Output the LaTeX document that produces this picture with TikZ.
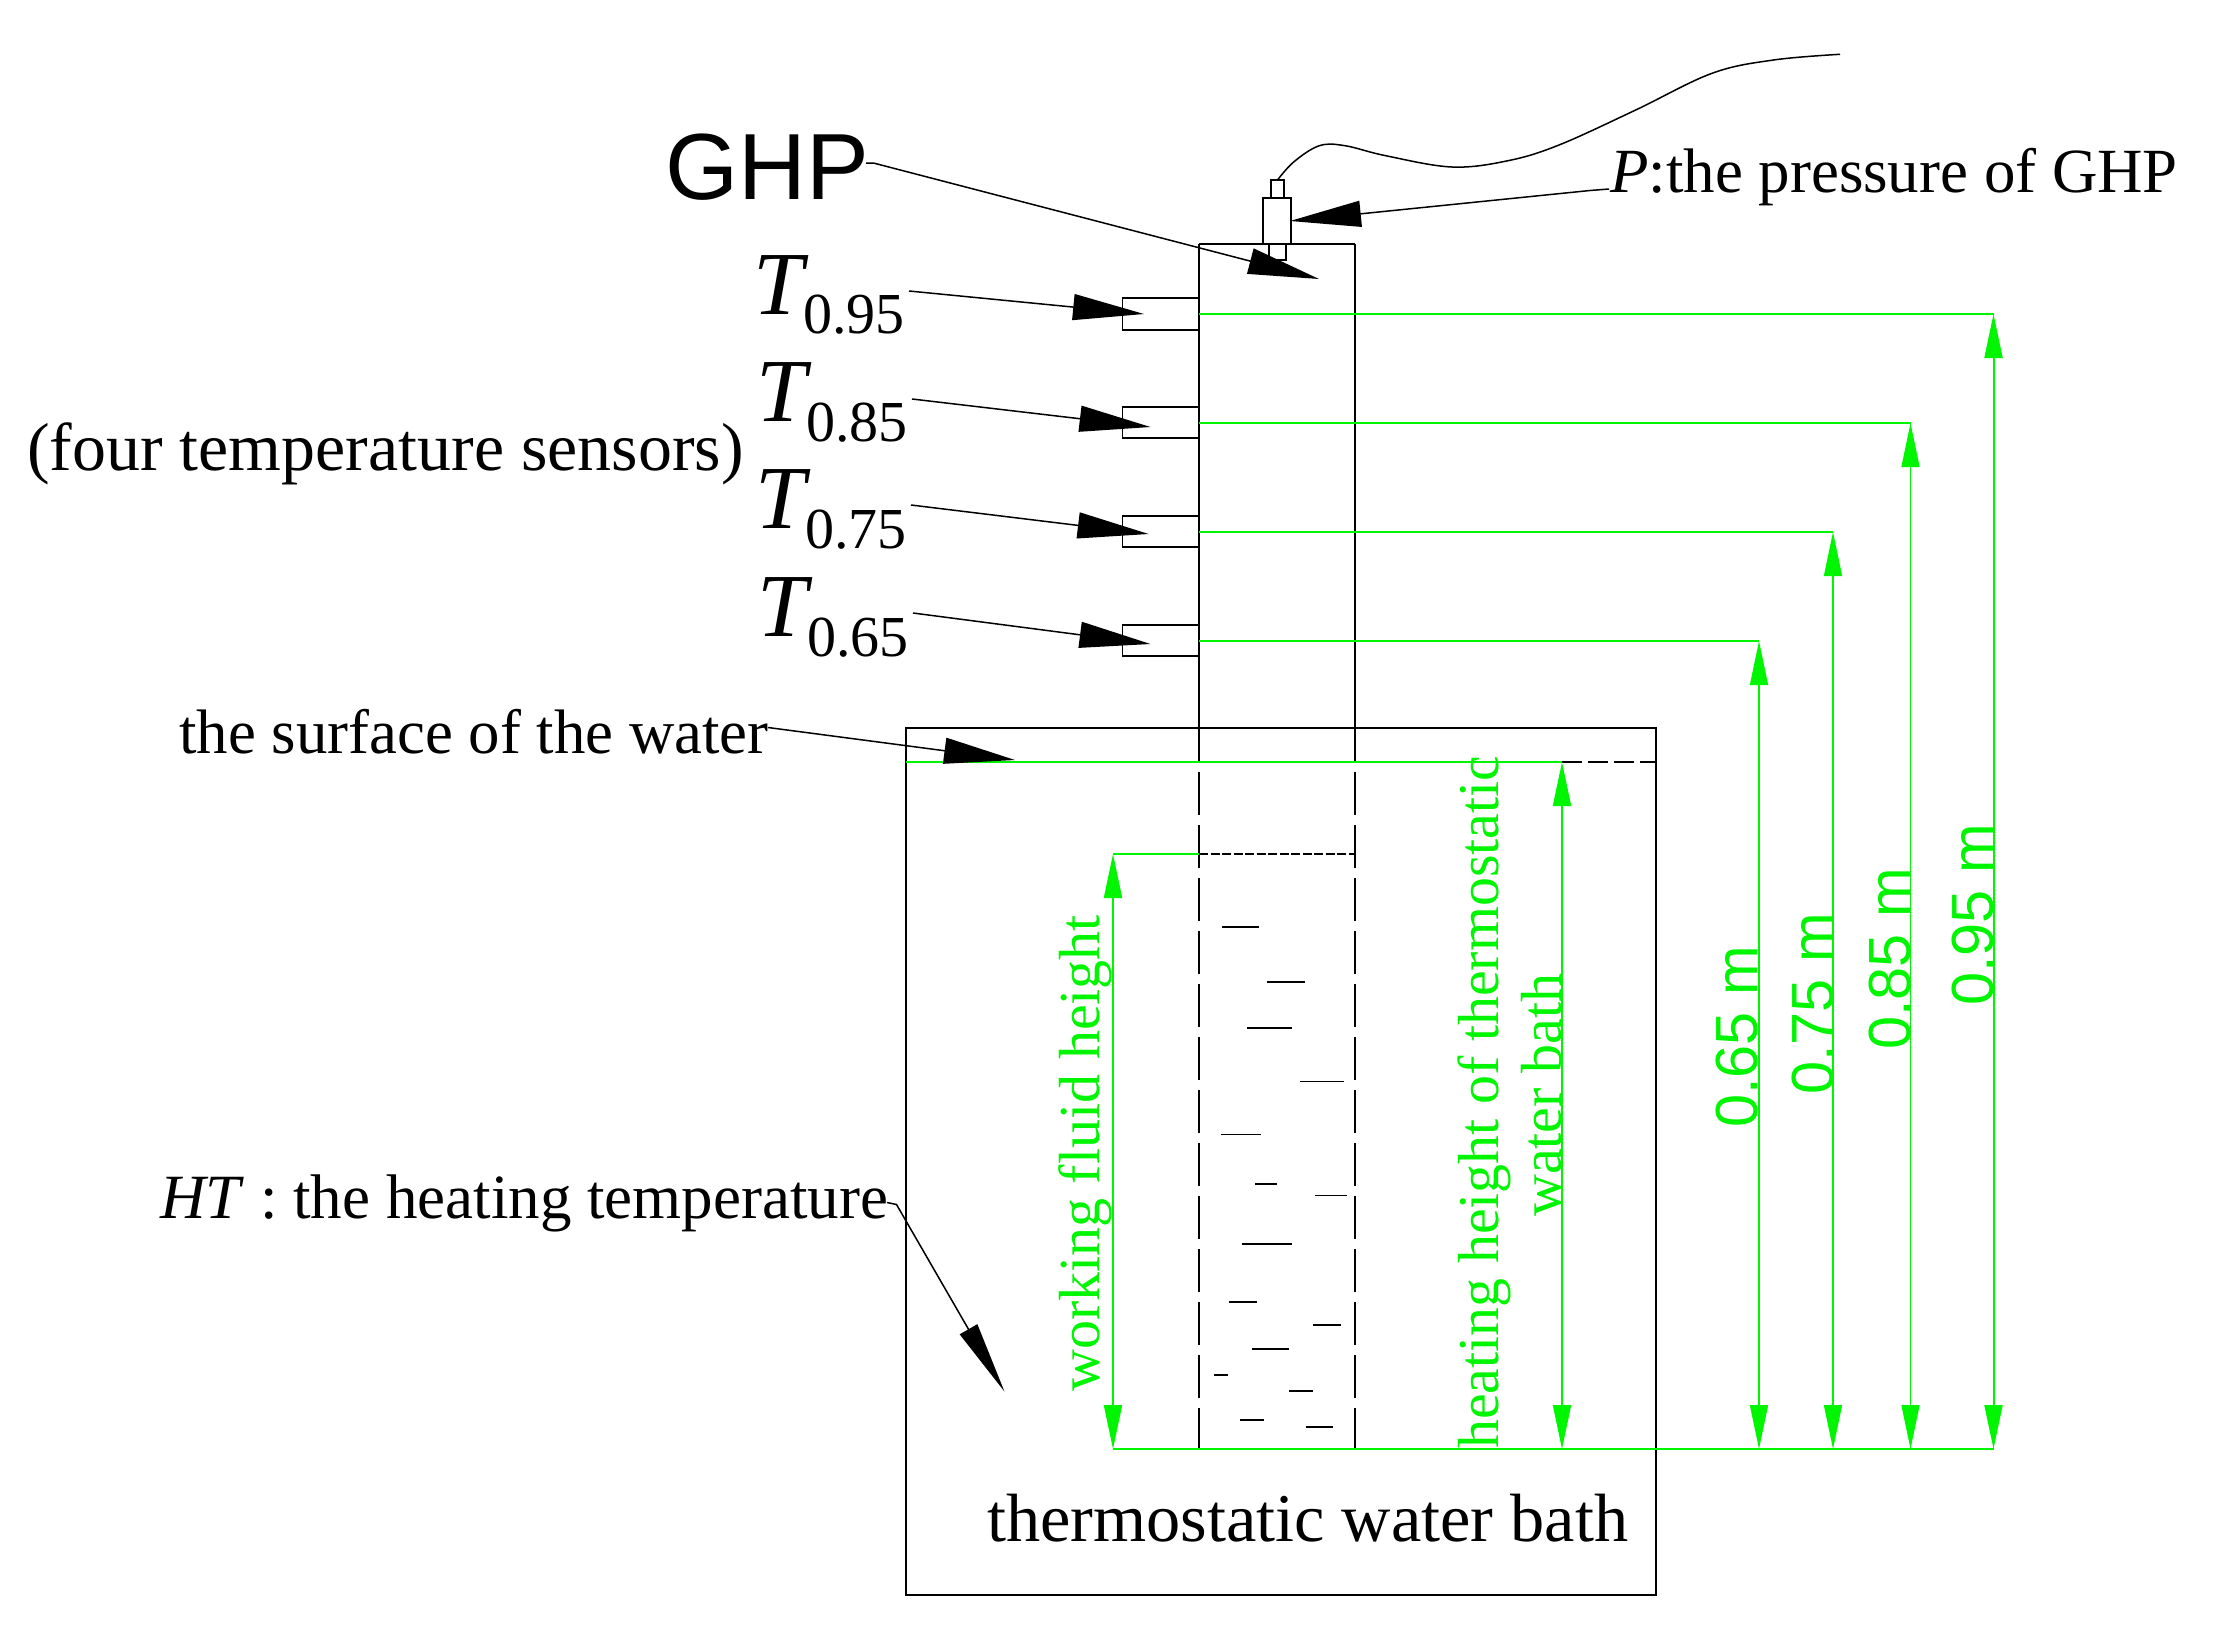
\documentclass[tikz,border=0pt]{standalone}
\usepackage{fontspec}
\usetikzlibrary{arrows.meta}
\setmainfont{Liberation Serif}
\newfontfamily\arialf{Liberation Sans}
\newcommand{\fs}[1]{\fontsize{#1pt}{#1pt}\selectfont}
\newcommand{\Tlabel}[1]{{\fs{90}\itshape T}\raisebox{-19.5pt}{\fs{58}#1}}
\definecolor{dimgreen}{RGB}{0,245,0}
\tikzset{
  txt/.style={inner sep=0pt,anchor=base west,text=black},
  gtxt/.style={inner sep=0pt,anchor=base west,rotate=90,text=dimgreen},
  wall/.style={draw=black,line width=1.3pt},
  thickwall/.style={draw=black,line width=2.5pt},
  sensorbox/.style={draw=black,line width=1.5pt,fill=white},
  leader/.style={draw=black,line width=1.5pt,-{Triangle[length=71pt,width=26pt,fill=black]}},
  hleader/.style={draw=black,line width=1.5pt,-{Triangle[length=72pt,width=20pt,fill=black]}},
  gline/.style={draw=dimgreen,line width=2pt},
  gthin/.style={draw=dimgreen,line width=1.5pt},
  dimarrow/.style={draw=dimgreen,line width=2pt,{Triangle[length=44pt,width=18pt,fill=dimgreen]}-{Triangle[length=44pt,width=18pt,fill=dimgreen]}},
  drop/.style={draw=black,line width=1.6pt}
}
\begin{document}
\begin{tikzpicture}[x=1pt,y=-1pt]
\useasboundingbox[fill=white] (0,0) rectangle (2225,1652);
% bath
\draw[wall] (906,728) rectangle (1656,1595);
% tube
\draw[thickwall] (1199,244) -- (1199,762);
\draw[wall,line width=2pt] (1199,244) -- (1355,244);
\draw[wall] (1355,244) -- (1355,762);
\draw[thickwall,dash pattern=on 43pt off 10pt] (1199,772) -- (1199,1449);
\draw[wall,dash pattern=on 43pt off 10pt] (1355,772) -- (1355,1449);
% pressure sensor
\draw[wall] (1271,180) rectangle (1284,198);
\draw[wall] (1263,198) rectangle (1291,244);
\draw[wall] (1269,244) rectangle (1286,260);
\draw[line width=1.5pt] plot[smooth,tension=.6] coordinates {(1277.5,180) (1294,161.7) (1319.4,145.7) (1345,145.7) (1385.7,155.7) (1452,167) (1508,160.7) (1559,145) (1635.7,110) (1712,73.3) (1773.5,60) (1840,54.3)};
% temperature sensors
\draw[sensorbox] (1122.6,298) rectangle (1199,330);
\draw[sensorbox] (1122.6,407) rectangle (1199,438);
\draw[sensorbox] (1122.6,516) rectangle (1199,547);
\draw[sensorbox] (1122.6,625) rectangle (1199,656);
% fluid level and drops
\draw[draw=black,line width=1.2pt,dash pattern=on 9pt off 2.5pt] (1199,854) -- (1355,854);
\foreach \a/\b/\y in {1222/1259/927,1267/1305/982,1247/1292/1028,1300/1344/1081.6,1221/1261/1134.5,1255/1277/1184,1315/1347/1195.5,1242/1292/1244,1229/1257/1301.7,1313/1341/1325,1252/1289/1348.7,1214/1228/1375,1289/1313/1391,1240/1264/1420,1306/1333/1427}
  \draw[drop] (\a,\y) -- (\b,\y);
% water surface
\draw[draw=black,line width=2pt,dash pattern=on 20pt off 6pt] (1562,762) -- (1656,762);
% green labels
\node[gtxt] (lwf) at (1099,1392) {\fs{58}working fluid height};
\node[gtxt] (lhh) at (1498,1449) {\fs{57.9}heating height of thermostatic};
\node[gtxt] (lwb) at (1561,1217) {\fs{58}water bath};
\node[gtxt] (l65) at (1757,1128) {\arialf\fs{59.5}0.65 m};
\node[gtxt] (l75) at (1833,1095) {\arialf\fs{59.5}0.75 m};
\node[gtxt] (l85) at (1910,1050) {\arialf\fs{59.5}0.85 m};
\node[gtxt] (l95) at (1993,1006) {\arialf\fs{59.5}0.95 m};
% green lines
\coordinate (wl) at (906,762);
\coordinate (wt) at (1562,762);
\coordinate (wb) at (1562,1449);
\coordinate (fl) at (1199,854);
\coordinate (ft) at (1113,854);
\coordinate (fb) at (1113,1449);
\coordinate (t65a) at (1199,641);
\coordinate (t65) at (1759,641);
\coordinate (b65) at (1759,1449);
\coordinate (t75a) at (1199,532);
\coordinate (t75) at (1833,532);
\coordinate (b75) at (1833,1449);
\coordinate (t85a) at (1199,423);
\coordinate (t85) at (1910.5,423);
\coordinate (b85) at (1910.5,1449);
\coordinate (t95a) at (1199,314);
\coordinate (t95) at (1993.5,314);
\coordinate (b95) at (1993.5,1449);
\draw[gline] (wl) -- (wt);
\draw[gthin] (fl) -- (ft);
\draw[gthin] (fb) -- (b95);
\draw[gthin] (t65a) -- (t65);
\draw[gline] (t75a) -- (t75);
\draw[gthin] (t85a) -- (t85);
\draw[gline] (t95a) -- (t95);
\draw[dimarrow] (ft) -- (fb);
\draw[dimarrow] (wt) -- (wb);
\draw[dimarrow,line width=1.5pt] (t65) -- (b65);
\draw[dimarrow,line width=1.5pt] (t75) -- (b75);
\draw[dimarrow,line width=1.5pt] (t85) -- (b85);
\draw[dimarrow] (t95) -- (b95);
% black labels
\node[txt] (ghp) at (665,199) {\arialf\fs{94}GHP};
\node[txt] (pl) at (1610,192) {\fs{62.9}\textit{P}:the pressure of GHP};
\node[txt] (four) at (27,470) {\fs{67.9}(four temperature sensors)};
\node[txt] (surf) at (179,753) {\fs{62.8}the surface of the water};
\node[txt] (ht) at (160,1218) {\fs{63}\textit{HT} : the heating temperature};
\node[txt] (bath) at (987,1541) {\fs{68.3}thermostatic water bath};
\node[txt] (T95) at (753,314) {\Tlabel{0.95}};
\node[txt] (T85) at (756,421.5) {\Tlabel{0.85}};
\node[txt] (T75) at (755,528.6) {\Tlabel{0.75}};
\node[txt] (T65) at (757,636.5) {\Tlabel{0.65}};
% leaders
\coordinate (s95) at (909,291);  \coordinate (e95) at (1144,314);
\coordinate (s85) at (912,399);  \coordinate (e85) at (1150.5,427);
\coordinate (s75) at (911,505);  \coordinate (e75) at (1148.6,534);
\coordinate (s65) at (913,613);  \coordinate (e65) at (1150.5,644);
\coordinate (sg) at (866,163);   \coordinate (sg2) at (873.4,163); \coordinate (eg) at (1319,279);
\coordinate (sp) at (1609,189);  \coordinate (sp2) at (1590,190.5); \coordinate (ep) at (1290,221);
\coordinate (ss) at (768,727.5); \coordinate (es) at (1015,760);
\coordinate (sh) at (887,1202.5); \coordinate (sh2) at (896.5,1204.5); \coordinate (eh) at (1004.5,1391.6);
\draw[leader] (s95) -- (e95);
\draw[leader] (s85) -- (e85);
\draw[leader] (s75) -- (e75);
\draw[leader] (s65) -- (e65);
\draw[leader] (sg) -- (sg2) -- (eg);
\draw[leader] (sp) -- (sp2) -- (ep);
\draw[leader] (ss) -- (es);
\draw[hleader] (sh) -- (sh2) -- (eh);
\end{tikzpicture}
\end{document}
